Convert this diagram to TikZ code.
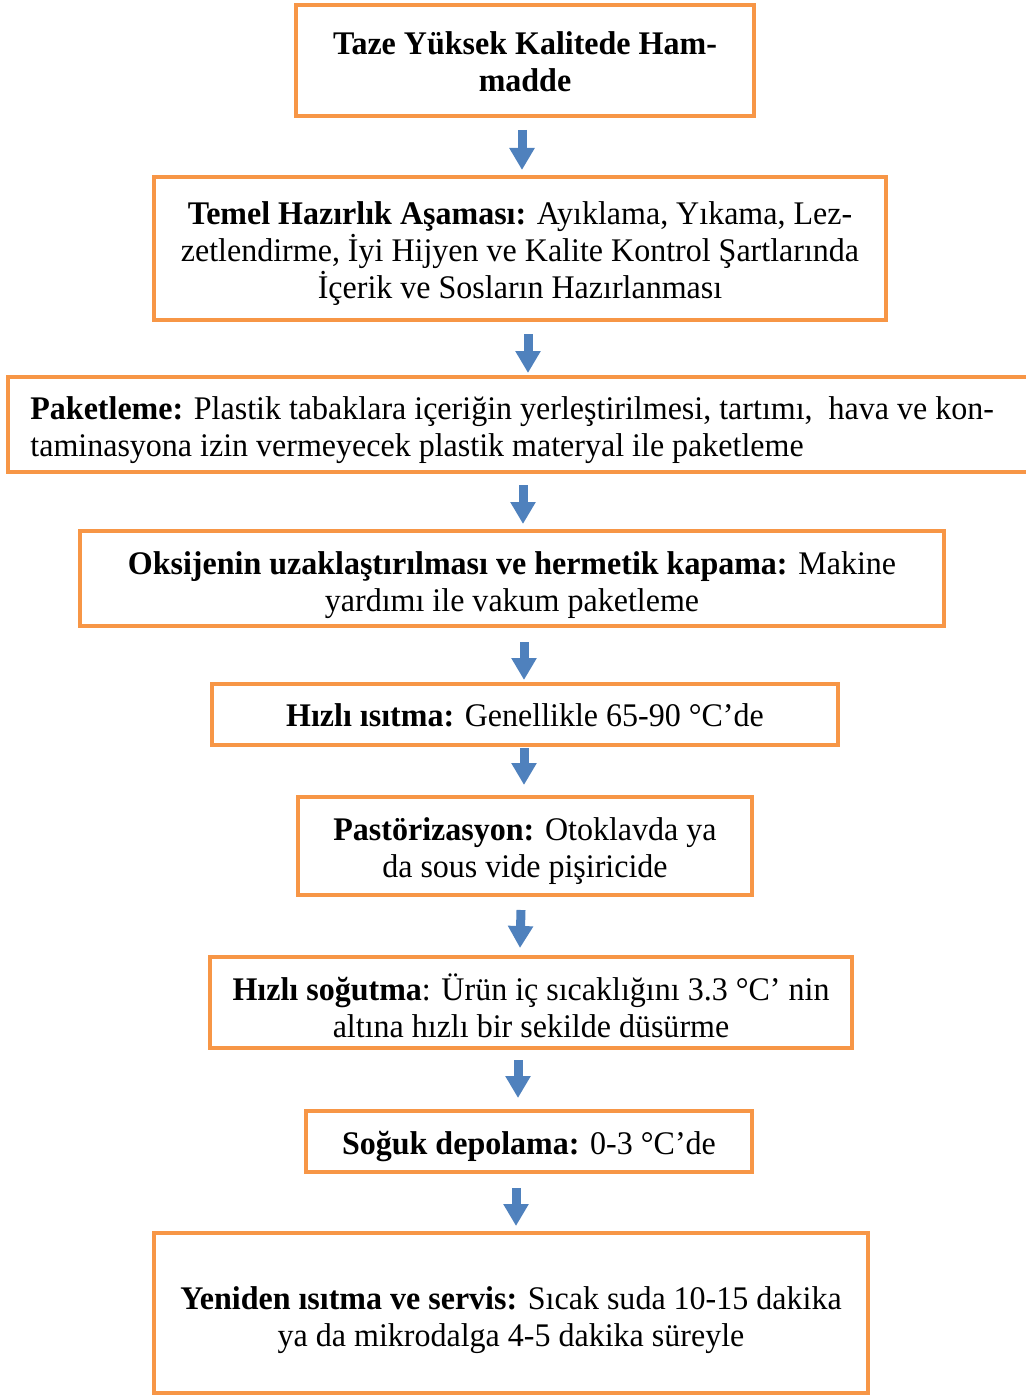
\documentclass[tikz,border=0pt]{standalone}
\usepackage{fontspec}
\setmainfont{Liberation Serif}[FakeStretch=0.97]
\usetikzlibrary{arrows.meta}
\definecolor{boxorange}{HTML}{F79646}
\definecolor{arrblue}{HTML}{4F81BD}
\tikzset{
  box/.style={draw=boxorange, line width=2pt, rectangle, fill=white, inner sep=0pt},
  txt/.style={align=center, inner sep=0pt, font=\fontsize{16.5pt}{18.5pt}\selectfont},
  arr/.style={draw=arrblue, line width=4.5pt, -{Triangle[width=12pt,length=11pt]}}
}
\begin{document}
\begin{tikzpicture}[x=0.5pt,y=-0.5pt]
\useasboundingbox (0,0) rectangle (1025,1396);
\node[box, minimum width=229pt, minimum height=55.5pt] (b1) at (525,60.5) {};
\node[txt] (t1) at ([yshift=-0.5pt]b1.center)
  {\textbf{Taze Yüksek Kalitede Ham-}\\\textbf{madde}};
\node[box, minimum width=366pt, minimum height=71.5pt] (b2) at (520,248.5) {};
\node[txt] (t2) at ([yshift=-2.5pt]b2.center)
  {\textbf{Temel Hazırlık Aşaması:} Ayıklama, Yıkama, Lez-\\zetlendirme, İyi Hijyen ve Kalite Kontrol Şartlarında\\İçerik ve Sosların Hazırlanması};
\node[box, minimum width=511pt, minimum height=47.5pt] (b3) at (519,424.5) {};
\node[txt, align=left, anchor=west] (t3) at ([xshift=12pt,yshift=-3pt]b3.west)
  {\textbf{Paketleme:} Plastik tabaklara içeriğin yerleştirilmesi, tartımı,\ \ hava ve kon-\\taminasyona izin vermeyecek plastik materyal ile paketleme};
\node[box, minimum width=432pt, minimum height=47.5pt] (b4) at (512,578.5) {};
\node[txt] (t4) at ([yshift=-3.5pt]b4.center)
  {\textbf{Oksijenin uzaklaştırılması ve hermetik kapama:} Makine\\yardımı ile vakum paketleme};
\node[box, minimum width=313pt, minimum height=30.5pt] (b5) at (525,714.5) {};
\node[txt] (t5) at ([yshift=-0.5pt]b5.center)
  {\textbf{Hızlı ısıtma:} Genellikle 65-90 °C’de};
\node[box, minimum width=227pt, minimum height=49pt] (b6) at (525,846) {};
\node[txt] (t6) at ([yshift=-2.5pt]b6.center)
  {\textbf{Pastörizasyon:} Otoklavda ya\\da sous vide pişiricide};
\node[box, minimum width=321pt, minimum height=45.5pt] (b7) at (531,1002.5) {};
\node[txt] (t7) at ([yshift=-1.5pt]b7.center)
  {\textbf{Hızlı soğutma}: Ürün iç sıcaklığını 3.3 °C’ nin\\altına hızlı bir sekilde düsürme};
\node[box, minimum width=223pt, minimum height=30.5pt] (b8) at (529,1141.5) {};
\node[txt] (t8) at ([yshift=-2.5pt]b8.center)
  {\textbf{Soğuk depolama:} 0-3 °C’de};
\node[box, minimum width=357pt, minimum height=80pt] (b9) at (511,1313) {};
\node[txt] (t9) at ([yshift=-3.5pt]b9.center)
  {\textbf{Yeniden ısıtma ve servis:} Sıcak suda 10-15 dakika\\ya da mikrodalga 4-5 dakika süreyle};
\draw[arr] ([xshift=-1.5pt,yshift=-6pt]b1.south) -- ([xshift=1pt,yshift=2.5pt]b2.north);
\draw[arr] ([xshift=4pt,yshift=-6pt]b2.south) -- ([xshift=4.5pt,yshift=1pt]b3.north);
\draw[arr] ([xshift=2pt,yshift=-5.5pt]b3.south) -- ([xshift=5.5pt,yshift=2.5pt]b4.north);
\draw[arr] ([xshift=6pt,yshift=-7pt]b4.south) -- ([xshift=-0.5pt,yshift=1pt]b5.north);
\draw[arr] ([xshift=-0.5pt,yshift=-0.5pt]b5.south) -- ([xshift=-0.5pt,yshift=5pt]b6.north);
\draw[arr] ([xshift=-2pt,yshift=-6.5pt]b6.south) -- ([xshift=-5.5pt,yshift=3.5pt]b7.north);
\draw[arr] ([xshift=-6.5pt,yshift=-5pt]b7.south) -- ([xshift=-5.5pt,yshift=5.5pt]b8.north);
\draw[arr] ([xshift=-6.5pt,yshift=-7pt]b8.south) -- ([xshift=2.5pt,yshift=2.5pt]b9.north);
\end{tikzpicture}
\end{document}
